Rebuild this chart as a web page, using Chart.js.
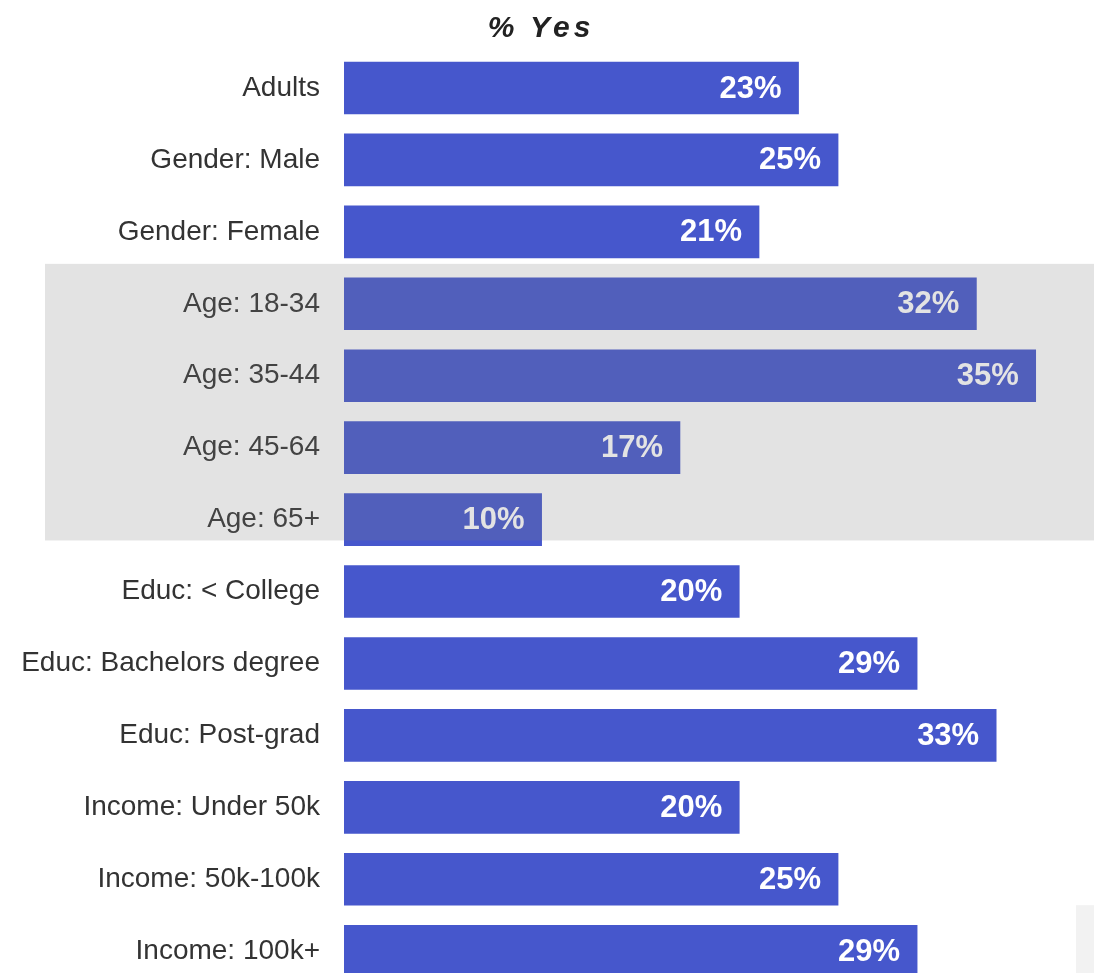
<!DOCTYPE html>
<html>
<head>
<meta charset="utf-8">
<script src="https://cdn.jsdelivr.net/npm/chart.js@4/dist/chart.umd.min.js"></script>
<style>
  html, body { margin: 0; padding: 0; background: #ffffff; overflow: hidden; width: 1094px; height: 973px; }
  #wrap { position: relative; width: 1094px; height: 1028px; }
  #title { position: absolute; left: 0; top: 9px; width: 1082px; text-align: center;
           font-family: "Liberation Sans", Arial, sans-serif; font-weight: bold; font-style: italic;
           font-size: 30px; letter-spacing: 4px; color: #222222; line-height: 36px; }
  canvas { position: absolute; left: 0; top: 0; width: 1094px; height: 1028px; }
</style>
</head>
<body>
<div id="wrap">
  <canvas id="c" width="1094" height="1028" style="width:1094px;height:1028px"></canvas>
  <div id="title">% Yes</div>
</div>
<script>
const categories = [
  "Adults", "Gender: Male", "Gender: Female",
  "Age: 18-34", "Age: 35-44", "Age: 45-64", "Age: 65+",
  "Educ: < College", "Educ: Bachelors degree", "Educ: Post-grad",
  "Income: Under 50k", "Income: 50k-100k", "Income: 100k+"
];
const values = [23, 25, 21, 32, 35, 17, 10, 20, 29, 33, 20, 25, 29];
const valueLabels = ["23%", "25%", "21%", "32%", "35%", "17%", "10%", "20%", "29%", "33%", "20%", "25%", "29%"];
const highlightedRows = [3, 6]; // first and last index of the shaded Age group

const FONT = '"Liberation Sans", Arial, sans-serif';

const valueLabelPlugin = {
  id: 'valueLabels',
  afterDatasetsDraw(chart) {
    const ctx = chart.ctx;
    const meta = chart.getDatasetMeta(0);
    ctx.save();
    ctx.fillStyle = '#ffffff';
    ctx.font = 'bold 31px ' + FONT;
    ctx.textAlign = 'right';
    ctx.textBaseline = 'middle';
    meta.data.forEach((bar, i) => {
      ctx.fillText(valueLabels[i], bar.x - 17, bar.y + 1);
    });
    ctx.restore();
  }
};

const overlayPlugin = {
  id: 'overlay',
  afterDraw(chart) {
    const ctx = chart.ctx;
    const y = chart.scales.y;
    const step = y.getPixelForValue(1) - y.getPixelForValue(0);
    const top = y.getPixelForValue(highlightedRows[0]) - step * 0.555;
    const bottom = y.getPixelForValue(highlightedRows[1]) + step * 0.29;
    ctx.save();
    ctx.fillStyle = 'rgba(125,125,125,0.216)';
    ctx.fillRect(45, top, chart.width - 45, bottom - top);
    // small light panel bottom right
    ctx.fillStyle = '#f2f2f2';
    const lastY = y.getPixelForValue(categories.length - 1);
    ctx.fillRect(1076, lastY - step * 0.64, 18, chart.height);
    ctx.restore();
  }
};

new Chart(document.getElementById('c'), {
  type: 'bar',
  data: {
    labels: categories,
    datasets: [{
      data: values,
      backgroundColor: '#4657cc',
      borderWidth: 0,
      barThickness: 52
    }]
  },
  options: {
    indexAxis: 'y',
    responsive: false,
    maintainAspectRatio: false,
    animation: false,
    devicePixelRatio: 1,
    layout: { padding: { top: 52, right: 0, bottom: 12, left: 0 } },
    plugins: {
      legend: { display: false },
      title: { display: false },
      tooltip: { enabled: false }
    },
    scales: {
      x: {
        display: false,
        min: 0,
        max: 37.95
      },
      y: {
        afterFit(scale) { scale.width = 344; },
        grid: { display: false, drawTicks: false },
        border: { display: false },
        ticks: {
          color: '#333333',
          padding: 24,
          font: { family: FONT, size: 28 }
        }
      }
    }
  },
  plugins: [valueLabelPlugin, overlayPlugin]
});
</script>
</body>
</html>
